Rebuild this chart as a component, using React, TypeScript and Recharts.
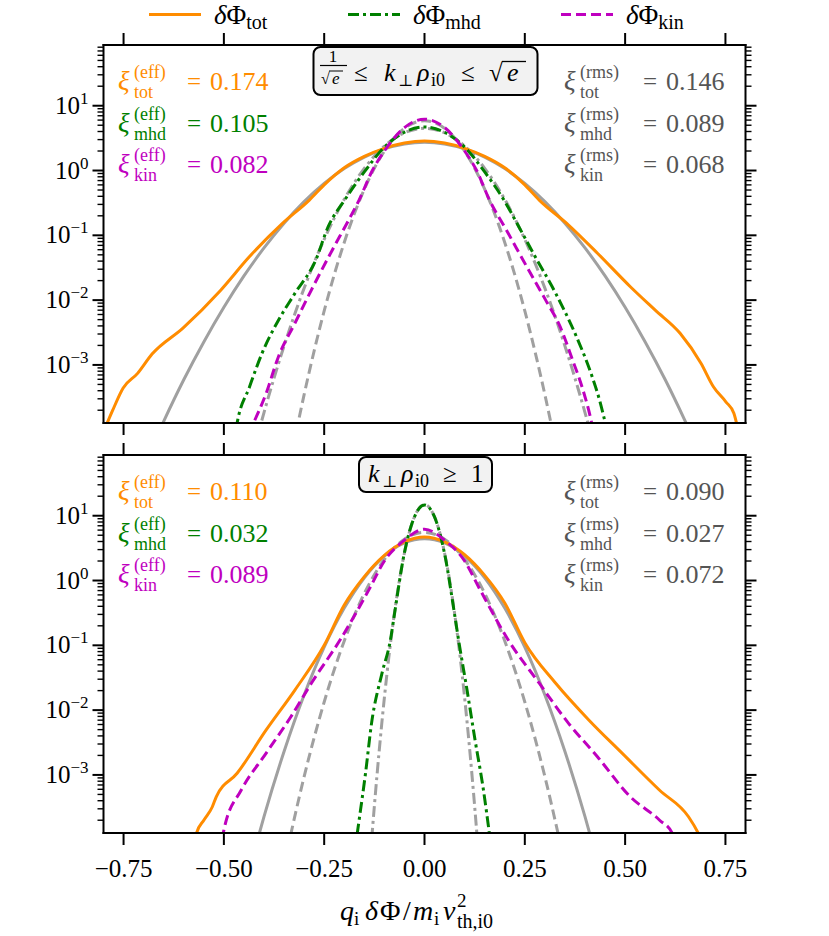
import React from "react";
import { LineChart, Line, XAxis, YAxis } from "recharts";

type Pt = [number, number];

// axes
const X_DOMAIN = [-0.8, 0.8];
const Y_DOMAIN = [1.27e-4, 86.5];
const X_TICKS = [-0.75, -0.5, -0.25, 0, 0.25, 0.5, 0.75];
const Y_MAJOR = [1e-3, 1e-2, 1e-1, 1, 10];
const Y_MINOR = [
  2e-4, 3e-4, 4e-4, 5e-4, 6e-4, 7e-4, 8e-4, 9e-4,
  2e-3, 3e-3, 4e-3, 5e-3, 6e-3, 7e-3, 8e-3, 9e-3,
  2e-2, 3e-2, 4e-2, 5e-2, 6e-2, 7e-2, 8e-2, 9e-2,
  0.2, 0.3, 0.4, 0.5, 0.6, 0.7, 0.8, 0.9,
  2, 3, 4, 5, 6, 7, 8, 9,
  20, 30, 40, 50, 60, 70, 80,
];
const Y_TICKS = [...Y_MINOR, ...Y_MAJOR];

// series meta
const NAMES = ["tot", "mhd", "kin"];
const COLORS = ["#ff8c00", "#008000", "#bf00bf"];
const DASHES = [undefined, "11 4 3 4", "10 5"];
const GRAY = "#a0a0a0";

// top panel: 1/sqrt(e) <= k rho <= sqrt(e)
const TOP_TOT: Pt[] = [
  [-0.795, 1.1e-4], [-0.777, 2.0e-4], [-0.751, 4.4e-4], [-0.715, 7.4e-4], [-0.679, 1.47e-3],
  [-0.602, 3.7e-3], [-0.509, 0.014], [-0.436, 0.047], [-0.354, 0.153], [-0.287, 0.35],
  [-0.25, 0.6], [-0.2, 1.1], [-0.15, 1.65], [-0.1, 2.2], [-0.05, 2.65], [0, 2.85],
  [0.05, 2.65], [0.1, 2.2], [0.15, 1.65], [0.2, 1.1], [0.25, 0.6], [0.286, 0.35],
  [0.359, 0.144], [0.431, 0.053], [0.513, 0.0161], [0.575, 7.0e-3], [0.637, 3.08e-3],
  [0.689, 1.06e-3], [0.72, 4.6e-4], [0.751, 2.7e-4], [0.771, 1.8e-4], [0.78, 1.1e-4],
];
const TOP_MHD: Pt[] = [
  [-0.47, 1.0e-4], [-0.467, 1.27e-4], [-0.436, 4.6e-4], [-0.405, 1.51e-3], [-0.364, 4.9e-3],
  [-0.323, 0.0127], [-0.271, 0.0416], [-0.24, 0.136], [-0.199, 0.35], [-0.15, 0.95],
  [-0.1, 2.3], [-0.05, 3.9], [0, 4.7], [0.05, 3.9], [0.1, 2.3], [0.15, 0.95],
  [0.198, 0.35], [0.235, 0.136], [0.271, 0.053], [0.327, 0.0127], [0.379, 2.7e-3],
  [0.415, 7.4e-4], [0.436, 2.9e-4], [0.449, 1.4e-4], [0.455, 1.0e-4],
];
const TOP_KIN: Pt[] = [
  [-0.423, 1.4e-4], [-0.395, 3.6e-4], [-0.364, 1.34e-3], [-0.323, 4.4e-3], [-0.282, 0.0143],
  [-0.23, 0.059], [-0.189, 0.172], [-0.163, 0.35], [-0.13, 1.0], [-0.1, 2.0], [-0.05, 4.6],
  [0, 6.2], [0.05, 4.6], [0.1, 2.0], [0.13, 1.0], [0.162, 0.35], [0.204, 0.121],
  [0.255, 0.0327], [0.302, 0.01], [0.338, 3.9e-3], [0.369, 1.19e-3], [0.395, 4.1e-4],
  [0.415, 1.41e-4], [0.42, 1.0e-4],
];
const TOP_TOT_GAUSS: Pt[] = [
  [-0.67, 7.3e-5], [-0.65, 1.35e-4], [-0.6, 5.9e-4], [-0.55, 2.26e-3], [-0.5, 7.75e-3],
  [-0.45, 0.0236], [-0.4, 0.064], [-0.35, 0.154], [-0.3, 0.331], [-0.25, 0.63], [-0.2, 1.07],
  [-0.15, 1.61], [-0.1, 2.16], [-0.05, 2.57], [0, 2.73], [0.05, 2.57], [0.1, 2.16],
  [0.15, 1.61], [0.2, 1.07], [0.25, 0.63], [0.3, 0.331], [0.35, 0.154], [0.4, 0.064],
  [0.45, 0.0236], [0.5, 7.75e-3], [0.55, 2.26e-3], [0.6, 5.9e-4], [0.65, 1.35e-4], [0.67, 7.3e-5],
];
const TOP_MHD_GAUSS: Pt[] = [
  [-0.42, 6.5e-5], [-0.4, 1.84e-4], [-0.35, 1.96e-3], [-0.3, 0.0153], [-0.25, 0.0867],
  [-0.2, 0.359], [-0.15, 1.08], [-0.1, 2.38], [-0.05, 3.83], [0, 4.48], [0.05, 3.83],
  [0.1, 2.38], [0.15, 1.08], [0.2, 0.359], [0.25, 0.0867], [0.3, 0.0153], [0.35, 1.96e-3],
  [0.4, 1.84e-4], [0.42, 6.5e-5],
];
const TOP_KIN_GAUSS: Pt[] = [
  [-0.32, 9.1e-5], [-0.3, 3.48e-4], [-0.25, 6.81e-3], [-0.2, 0.0777], [-0.15, 0.515],
  [-0.1, 1.99], [-0.05, 4.48], [0, 5.87], [0.05, 4.48], [0.1, 1.99], [0.15, 0.515],
  [0.2, 0.0777], [0.25, 6.81e-3], [0.3, 3.48e-4], [0.32, 9.1e-5],
];
const TOP_EFF = ["0.174", "0.105", "0.082"];
const TOP_RMS = ["0.146", "0.089", "0.068"];

// bottom panel: k rho >= 1
const BOT_TOT: Pt[] = [
  [-0.572, 1.0e-4], [-0.568, 1.27e-4], [-0.55, 2.0e-4], [-0.529, 3.2e-4], [-0.519, 4.6e-4],
  [-0.467, 1.06e-3], [-0.395, 4.9e-3], [-0.323, 0.0204], [-0.25, 0.1], [-0.2, 0.42],
  [-0.15, 1.15], [-0.1, 2.45], [-0.05, 3.95], [0, 4.7], [0.05, 3.95], [0.1, 2.5],
  [0.15, 1.2], [0.2, 0.45], [0.25, 0.11], [0.327, 0.026], [0.41, 7.0e-3], [0.493, 2.15e-3],
  [0.586, 5.8e-4], [0.658, 2.26e-4], [0.682, 1.27e-4], [0.69, 1.0e-4],
];
const BOT_MHD: Pt[] = [
  [-0.168, 1.2e-4], [-0.163, 2.0e-4], [-0.147, 1.06e-3], [-0.132, 6.25e-3], [-0.106, 0.037],
  [-0.085, 0.12], [-0.075, 0.3], [-0.05, 2.7], [-0.025, 9.6], [0, 14.6], [0.025, 9.6],
  [0.05, 2.6], [0.075, 0.3], [0.085, 0.12], [0.106, 0.0204], [0.126, 3.46e-3],
  [0.147, 5.8e-4], [0.162, 1.2e-4],
];
const BOT_KIN: Pt[] = [
  [-0.505, 1.0e-4], [-0.498, 1.6e-4], [-0.457, 5.8e-4], [-0.395, 2.15e-3], [-0.333, 7.9e-3],
  [-0.282, 0.026], [-0.209, 0.125], [-0.137, 0.75], [-0.1, 2.0], [-0.05, 4.2], [0, 6.2],
  [0.05, 4.2], [0.1, 2.0], [0.137, 0.75], [0.209, 0.12], [0.286, 0.026], [0.359, 6.25e-3],
  [0.431, 1.91e-3], [0.513, 4.6e-4], [0.586, 2.0e-4], [0.617, 1.27e-4], [0.622, 1.0e-4],
];
const BOT_TOT_GAUSS: Pt[] = [
  [-0.42, 8.2e-5], [-0.4, 2.27e-4], [-0.35, 2.3e-3], [-0.3, 0.01713], [-0.25, 0.0935],
  [-0.2, 0.375], [-0.15, 1.105], [-0.1, 2.39], [-0.05, 3.8], [0, 4.43], [0.05, 3.8],
  [0.1, 2.39], [0.15, 1.105], [0.2, 0.375], [0.25, 0.0935], [0.3, 0.01713], [0.35, 2.3e-3],
  [0.4, 2.27e-4], [0.42, 8.2e-5],
];
const BOT_MHD_GAUSS: Pt[] = [
  [-0.14, 2.15e-5], [-0.125, 3.28e-4], [-0.1, 0.01552], [-0.075, 0.312], [-0.05, 2.66],
  [-0.025, 9.63], [0, 14.78], [0.025, 9.63], [0.05, 2.66], [0.075, 0.312], [0.1, 0.01552],
  [0.125, 3.28e-4], [0.14, 2.15e-5],
];
const BOT_KIN_GAUSS: Pt[] = [
  [-0.35, 4.09e-5], [-0.3, 9.41e-4], [-0.25, 0.01335], [-0.2, 0.117], [-0.15, 0.633],
  [-0.1, 2.11], [-0.05, 4.35], [0, 5.54], [0.05, 4.35], [0.1, 2.11], [0.15, 0.633],
  [0.2, 0.117], [0.25, 0.01335], [0.3, 9.41e-4], [0.35, 4.09e-5],
];
const BOT_EFF = ["0.110", "0.032", "0.089"];
const BOT_RMS = ["0.090", "0.027", "0.072"];

const FONT = "Liberation Serif, DejaVu Serif, serif";
const FRAME = { stroke: "#000", strokeWidth: 2, strokeLinecap: "square" };
const TICK_LINE = { stroke: "#000", strokeWidth: 2 };

const rows = (pts: Pt[]) => pts.map(([x, y]) => ({ x, y }));
const minus = (s: string) => s.replace("-", "\u2212");

function LeftTick({ x, y, payload }: any) {
  const v = payload.value;
  const major = Y_MAJOR.includes(v);
  const exp = Math.round(Math.log10(v));
  return (
    <g>
      <line x1={x - (major ? 11 : 6)} x2={x} y1={y} y2={y} stroke="#000" strokeWidth={major ? 2 : 1.4} />
      {major && (
        <text x={x - 15} y={y + 8} textAnchor="end" fontFamily={FONT} fontSize={25} fill="#000">
          10<tspan dy={-10} fontSize={17}>{minus(String(exp))}</tspan>
        </text>
      )}
    </g>
  );
}

function RightTick({ x, y, payload }: any) {
  const major = Y_MAJOR.includes(payload.value);
  return (
    <line x1={x} x2={x + (major ? 11 : 6)} y1={y} y2={y} stroke="#000" strokeWidth={major ? 2 : 1.4} />
  );
}

function XTickLabel({ x, y, payload }: any) {
  const v = payload.value;
  const s = (v < 0 ? "\u2212" : "") + Math.abs(v).toFixed(2);
  return (
    <text x={x} y={y + 31.5} textAnchor="middle" fontFamily={FONT} fontSize={25} fill="#000">
      {s}
    </text>
  );
}

const NoTick = () => null;

function Panel({ top, height, curves, gausses, labels }: any) {
  return (
    <div style={{ position: "absolute", left: 0, top }}>
      <LineChart width={829} height={height} margin={{ top: 25, right: 63.5, bottom: 0, left: 43.5 }}>
        <XAxis
          xAxisId="b" dataKey="x" type="number" domain={X_DOMAIN} allowDataOverflow
          ticks={X_TICKS} interval={0} height={height - 423} tickSize={12} tickMargin={0}
          tickLine={TICK_LINE} axisLine={FRAME} tick={labels ? XTickLabel : NoTick}
        />
        <XAxis
          xAxisId="t" orientation="top" dataKey="x" type="number" domain={X_DOMAIN} allowDataOverflow
          ticks={X_TICKS} interval={0} height={20} tickSize={12} tickMargin={0}
          tickLine={TICK_LINE} axisLine={FRAME} tick={NoTick}
        />
        <YAxis
          yAxisId="l" scale="log" type="number" domain={Y_DOMAIN} allowDataOverflow
          ticks={Y_TICKS} interval={0} width={60} tickSize={0} tickMargin={0}
          tickLine={false} axisLine={FRAME} tick={LeftTick}
        />
        <YAxis
          yAxisId="r" orientation="right" scale="log" type="number" domain={Y_DOMAIN} allowDataOverflow
          ticks={Y_TICKS} interval={0} width={20} tickSize={0} tickMargin={0}
          tickLine={false} axisLine={FRAME} tick={RightTick}
        />
        {gausses.map((pts: Pt[], i: number) => (
          <Line
            key={"g" + i} xAxisId="b" yAxisId="l" data={rows(pts)} dataKey="y" type="monotone"
            stroke={GRAY} strokeWidth={3} strokeDasharray={DASHES[i]} dot={false}
            isAnimationActive={false}
          />
        ))}
        {curves.map((pts: Pt[], i: number) => (
          <Line
            key={"c" + i} xAxisId="b" yAxisId="l" data={rows(pts)} dataKey="y" type="monotone"
            stroke={COLORS[i]} strokeWidth={3} strokeDasharray={DASHES[i]} dot={false}
            isAnimationActive={false}
          />
        ))}
      </LineChart>
    </div>
  );
}

// one "xi^(sup)_sub = value" line of the in-panel annotations
function XiRow({ x, eqX, y, color, sup, sub, value }: any) {
  return (
    <g fill={color} fontFamily={FONT}>
      <text x={x} y={y} fontSize={27} fontStyle="italic">ξ</text>
      <text x={x + 16} y={y - 12} fontSize={18}>({sup})</text>
      <text x={x + 16} y={y + 8} fontSize={18}>{sub}</text>
      <text x={eqX} y={y} fontSize={25}>=</text>
      <text x={eqX + 23} y={y} fontSize={26}>{value}</text>
    </g>
  );
}

function Annotations({ dy, eff, rms }: any) {
  const base = [90, 131.5, 173];
  return (
    <g>
      {NAMES.map((n, i) => (
        <XiRow key={"e" + n} x={118} eqX={187} y={base[i] + dy} color={COLORS[i]} sup="eff" sub={n} value={eff[i]} />
      ))}
      {NAMES.map((n, i) => (
        <XiRow key={"r" + n} x={564} eqX={643} y={base[i] + dy} color="#555555" sup="rms" sub={n} value={rms[i]} />
      ))}
    </g>
  );
}

function Overlay() {
  const legendX = [149, 348, 561];
  return (
    <svg width={829} height={936} style={{ position: "absolute", left: 0, top: 0, pointerEvents: "none" }}>
      {/* legend */}
      {NAMES.map((n, i) => (
        <g key={n}>
          <line
            x1={legendX[i]} x2={legendX[i] + 52} y1={14.5} y2={14.5}
            stroke={COLORS[i]} strokeWidth={3} strokeDasharray={DASHES[i]}
          />
          <text x={legendX[i] + 65} y={24} fontFamily={FONT} fontSize={27} fill="#000">
            <tspan fontStyle="italic">δ</tspan>Φ<tspan dy={5} fontSize={20}>{n}</tspan>
          </text>
        </g>
      ))}

      {/* top panel title box */}
      <rect x={313.5} y={47} width={224} height={48} rx={7} fill="#f2f2f2" stroke="#000" strokeWidth={2} />
      <g fontFamily={FONT} fill="#000">
        <text x={333} y={62} fontSize={17} textAnchor="middle">1</text>
        <line x1={320} x2={347} y1={65.5} y2={65.5} stroke="#000" strokeWidth={1.2} />
        <text x={321} y={84} fontSize={16}>√</text>
        <line x1={329} x2={343} y1={71} y2={71} stroke="#000" strokeWidth={1} />
        <text x={332} y={84} fontSize={17} fontStyle="italic">e</text>
        <text x={354} y={81} fontSize={25}>≤</text>
        <text x={384} y={81} fontSize={26} fontStyle="italic">k</text>
        <text x={398} y={86} fontSize={16}>⊥</text>
        <text x={417} y={81} fontSize={26} fontStyle="italic">ρ</text>
        <text x={431} y={86} fontSize={18}>i0</text>
        <text x={461} y={81} fontSize={25}>≤</text>
        <text x={489} y={81} fontSize={25}>√</text>
        <line x1={502} x2={526} y1={61.5} y2={61.5} stroke="#000" strokeWidth={1.3} />
        <text x={507} y={81} fontSize={26} fontStyle="italic">e</text>
      </g>

      {/* bottom panel title box */}
      <rect x={359} y={457} width={133} height={35} rx={7} fill="#f2f2f2" stroke="#000" strokeWidth={2} />
      <g fontFamily={FONT} fill="#000">
        <text x={368} y={482} fontSize={26} fontStyle="italic">k</text>
        <text x={382} y={487} fontSize={16}>⊥</text>
        <text x={401} y={482} fontSize={26} fontStyle="italic">ρ</text>
        <text x={415} y={487} fontSize={18}>i0</text>
        <text x={443} y={482} fontSize={25}>≥</text>
        <text x={471} y={482} fontSize={25}>1</text>
      </g>

      <Annotations dy={0} eff={TOP_EFF} rms={TOP_RMS} />
      <Annotations dy={410} eff={BOT_EFF} rms={BOT_RMS} />

      {/* x label */}
      <g fontFamily={FONT} fill="#000">
        <text x={340} y={920} fontSize={28} fontStyle="italic">q</text>
        <text x={354} y={925} fontSize={19}>i</text>
        <text x={365} y={920} fontSize={28} fontStyle="italic">δ</text>
        <text x={380} y={920} fontSize={28}>Φ</text>
        <text x={403} y={920} fontSize={28}>/</text>
        <text x={413} y={920} fontSize={28} fontStyle="italic">m</text>
        <text x={434} y={925} fontSize={19}>i</text>
        <text x={443} y={920} fontSize={28} fontStyle="italic">v</text>
        <text x={457} y={907} fontSize={19}>2</text>
        <text x={457} y={928} fontSize={20}>th,i0</text>
      </g>
    </svg>
  );
}

export default function App() {
  return (
    <div style={{ position: "absolute", left: 0, top: 0, width: 829, height: 936, background: "#fff" }}>
      <Panel
        top={0} height={443} labels={false}
        curves={[TOP_TOT, TOP_MHD, TOP_KIN]}
        gausses={[TOP_TOT_GAUSS, TOP_MHD_GAUSS, TOP_KIN_GAUSS]}
      />
      <Panel
        top={410} height={526} labels={true}
        curves={[BOT_TOT, BOT_MHD, BOT_KIN]}
        gausses={[BOT_TOT_GAUSS, BOT_MHD_GAUSS, BOT_KIN_GAUSS]}
      />
      <Overlay />
    </div>
  );
}
